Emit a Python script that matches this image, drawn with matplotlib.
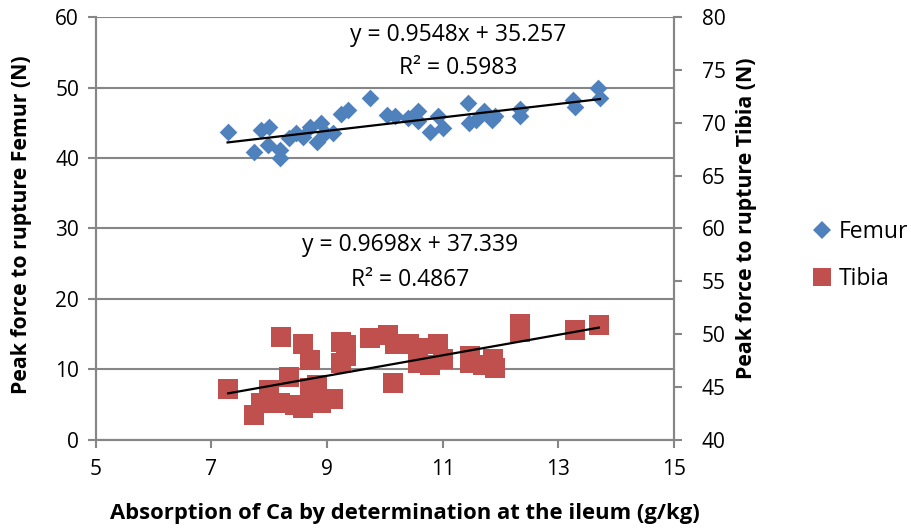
import matplotlib.pyplot as plt
from matplotlib.lines import Line2D

plt.rcParams['font.family'] = ['Open Sans', 'DejaVu Sans']

femur_x = [7.28, 7.74, 7.85, 8.00, 7.98, 8.18, 8.19, 8.35, 8.47, 8.58, 8.70, 8.82, 8.90,
           8.96, 9.10, 9.24, 9.36, 9.74, 10.03, 10.17, 10.40, 10.57, 10.57, 10.78, 10.92,
           11.00, 11.43, 11.46, 11.58, 11.72, 11.85, 11.90, 12.33, 12.33, 13.25, 13.29,
           13.68, 13.72]
femur_y = [43.7, 40.9, 44.0, 44.4, 41.8, 41.1, 40.0, 42.8, 43.5, 43.0, 44.4, 42.3, 44.9,
           43.5, 43.5, 46.3, 46.8, 48.5, 46.1, 45.9, 45.7, 46.6, 45.2, 43.7, 45.9,
           44.3, 47.8, 45.0, 45.4, 46.6, 45.4, 45.9, 47.0, 45.9, 48.2, 47.3,
           49.9, 48.5]

tibia_x = [7.29, 7.74, 8.20, 7.86, 8.00, 8.18, 8.35, 8.44, 8.59, 8.59, 8.70, 8.70, 8.82,
           8.90, 9.10, 9.24, 9.33, 9.24, 9.33, 9.74, 10.05, 10.14, 10.17, 10.41, 10.58,
           10.58, 10.78, 10.92, 11.01, 11.48, 11.48, 11.70, 11.87, 11.90, 12.33, 12.33,
           13.29, 13.70]
tibia_y = [44.8, 42.4, 49.7, 43.5, 44.7, 43.5, 46.0, 43.3, 49.1, 43.0, 47.6, 44.9, 45.2,
           43.5, 43.9, 49.3, 49.0, 47.3, 47.9, 49.6, 49.9, 45.4, 49.1, 49.1, 48.7,
           47.3, 47.1, 49.1, 47.7, 47.9, 47.3, 47.1, 47.7, 46.8, 51.0, 50.2,
           50.4, 50.9]

# trendline coefficients as shown on the chart
femur_fit = (0.9548, 35.257, 0.5983)
tibia_fit = (0.9698, 37.339, 0.4867)

blue = '#4F81BD'
red = '#C0504D'
grey = '#868686'

fig = plt.figure(figsize=(9.12, 5.32), dpi=100)
ax = fig.add_axes([0.105, 0.173, 0.634, 0.795])
ax2 = ax.twinx()

ax.scatter(femur_x, femur_y, marker='D', s=9 ** 2, color=blue, linewidths=0, zorder=3)
ax2.scatter(tibia_x, tibia_y, marker='s', s=14.5 ** 2, color=red, linewidths=0, zorder=3)

for a, xs, (m, b, r2) in [(ax, femur_x, femur_fit), (ax2, tibia_x, tibia_fit)]:
    x0, x1 = min(xs), max(xs)
    a.plot([x0, x1], [m * x0 + b, m * x1 + b], color='black', lw=1.6, zorder=4)

ax.set_xlim(5, 15)
ax.set_ylim(0, 60)
ax2.set_ylim(40, 80)
ax.set_xticks(range(5, 16, 2))
ax.set_yticks(range(0, 61, 10))
ax2.set_yticks(range(40, 81, 5))

ax.grid(axis='y', color=grey, lw=1.5)
ax.set_axisbelow(True)
for a in (ax, ax2):
    for s in a.spines.values():
        s.set_color(grey)
        s.set_linewidth(1.5)
    a.spines['top'].set_visible(False)
    a.tick_params(colors=grey, labelcolor='black', labelsize=15, length=6, width=1.5)
ax.tick_params(axis='x', pad=8)
ax.tick_params(axis='y', pad=6)
ax2.tick_params(axis='y', pad=14)

ax.set_xlabel('Absorption of Ca by determination at the ileum (g/kg)',
              fontsize=15.8, fontweight='bold')
ax.xaxis.set_label_coords(0.535, -0.15)
ax.set_ylabel('Peak force to rupture Femur (N)', fontsize=15.3, fontweight='bold')
ax.yaxis.set_label_coords(-0.11, 0.508)
ax2.set_ylabel('Peak force to rupture Tibia (N)', fontsize=15.3, fontweight='bold')
ax2.yaxis.set_label_coords(1.107, 0.525)

ax.text(11.26, 57.5, 'y = %.4fx + %.3f' % femur_fit[:2], fontsize=16.5, ha='center', va='center')
ax.text(11.26, 52.8, 'R² = %.4f' % femur_fit[2], fontsize=16.5, ha='center', va='center')
ax.text(10.43, 27.7, 'y = %.4fx + %.3f' % tibia_fit[:2], fontsize=16.5, ha='center', va='center')
ax.text(10.43, 22.7, 'R² = %.4f' % tibia_fit[2], fontsize=16.5, ha='center', va='center')

handles = [Line2D([], [], ls='none', marker='D', ms=9, color=blue, mew=0),
           Line2D([], [], ls='none', marker='s', ms=13, color=red, mew=0)]
fig.legend(handles, ['Femur', 'Tibia'], loc='center left', bbox_to_anchor=(0.869, 0.52),
           frameon=False, fontsize=16.5, handlelength=0.8, handletextpad=0.3, labelspacing=1.0)

fig.savefig('out.png', dpi=100)
